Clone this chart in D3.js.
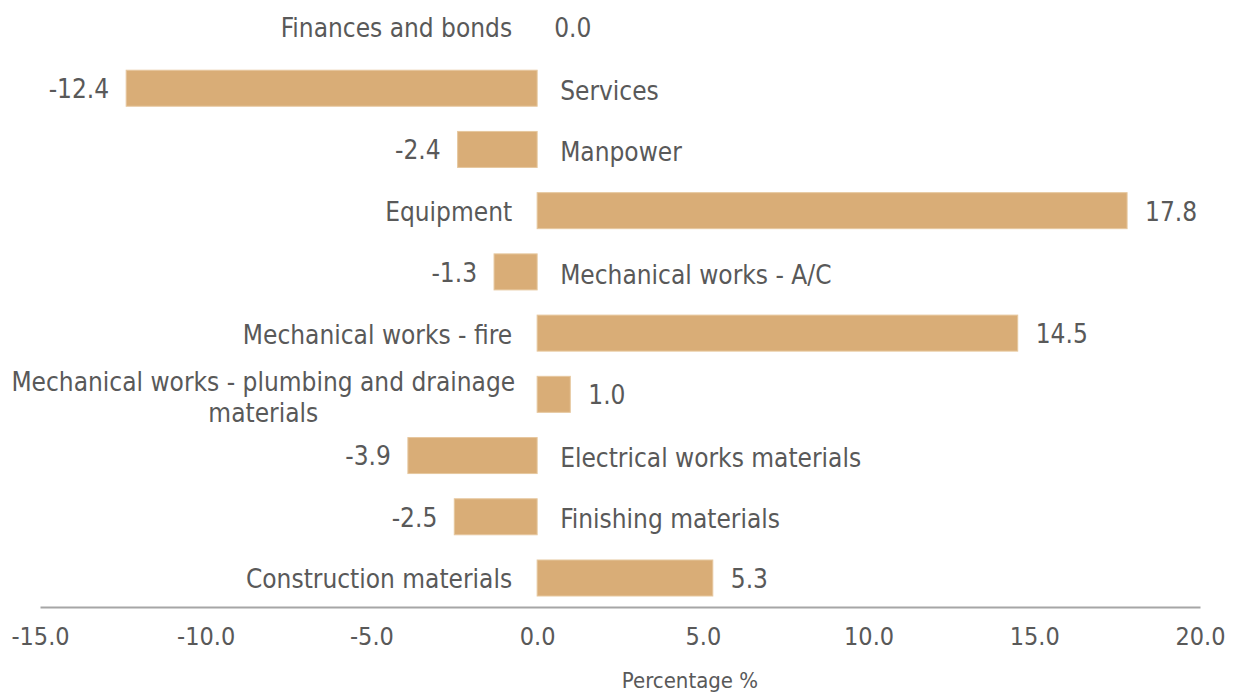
<!DOCTYPE html>
<html>
<head>
<meta charset="utf-8">
<script src="https://cdn.jsdelivr.net/npm/d3@7"></script>
<style>
  body { margin: 0; background: #fff; }
  text { font-family: "DejaVu Sans Condensed", "Liberation Sans Narrow", sans-serif; fill: #595959; }
</style>
</head>
<body>
<div id="chart"></div>
<script>
// categories, top to bottom
const categories = [
    "Finances and bonds",
    "Services",
    "Manpower",
    "Equipment",
    "Mechanical works - A/C",
    "Mechanical works - fire",
    "Mechanical works - plumbing and drainage materials",
    "Electrical works materials",
    "Finishing materials",
    "Construction materials"
]
const values = [0.0, -12.4, -2.4, 17.8, -1.3, 14.5, 1.0, -3.9, -2.5, 5.3]
const xTicks = [-15, -10, -5, 0, 5, 10, 15, 20]

const width = 1238
const height = 694
const fontSize = 26

// plain hyphen instead of unicode minus
const fmt = v => d3.format(".1f")(v).replace("\u2212", "-")

const svg = d3.select("#chart").append("svg")
    .attr("width", width)
    .attr("height", height)

// scales
const xScale = d3.scaleLinear()
    .domain([-15, 20])
    .range([40, 1200])

const yScale = d3.scalePoint()
    .domain(categories)
    .range([27, 578])

const barH = 36
const x0 = xScale(0)

const data = categories.map((c, i) => ({ name: c, value: values[i] }))

// bars
svg.append("g").selectAll("rect")
    .data(data.filter(d => d.value !== 0))
    .join("rect")
        .attr("x", d => Math.min(xScale(d.value), x0))
        .attr("y", d => yScale(d.name) - barH / 2)
        .attr("width", d => Math.abs(xScale(d.value) - x0))
        .attr("height", barH)
        .attr("fill", "#d9ad77")
        .attr("stroke", "#e6c79e")
        .attr("stroke-width", 1)

// axis line + tick labels
const xAx = d3.axisBottom(xScale)
    .tickValues(xTicks)
    .tickSize(0)
    .tickPadding(20)
    .tickFormat(fmt)

const xGroup = svg.append("g")
    .attr("transform", "translate(0, 607)")
    .call(xAx)

xGroup.select(".domain")
    .attr("stroke", "#a6a6a6")
    .attr("stroke-width", 2)
xGroup.selectAll(".tick text")
    .attr("fill", "#595959")
    .style("font-size", "25px")
    .style("font-family", "\"DejaVu Sans Condensed\", \"Liberation Sans Narrow\", sans-serif")

// axis title
svg.append("text")
    .attr("x", 690)
    .attr("y", 688)
    .style("text-anchor", "middle")
    .style("font-size", "22px")
    .text("Percentage %")

// value labels
svg.append("g").selectAll("text")
    .data(data)
    .join("text")
        .attr("x", d => d.value < 0 ? xScale(d.value) - 17 : (d.value === 0 ? x0 + 17 : xScale(d.value) + 18))
        .attr("y", d => yScale(d.name))
        .attr("dy", "0.38em")
        .style("text-anchor", d => d.value < 0 ? "end" : "start")
        .style("font-size", fontSize + "px")
        .text(d => fmt(d.value))

// category labels, on the opposite side of zero
const catG = svg.append("g")
data.forEach(d => {
    const neg = d.value < 0
    const t = catG.append("text")
        .attr("y", yScale(d.name))
        .style("font-size", fontSize + "px")
    if (neg) {
        t.attr("x", x0 + 23).attr("dy", "0.45em").style("text-anchor", "start").text(d.name)
    } else if (d.name.length > 30) {
        // wrap long label in two centered lines
        const line1 = "Mechanical works - plumbing and drainage"
        const line2 = "materials"
        t.attr("x", x0 - 22).attr("dy", "-0.12em").style("text-anchor", "end").text(line1)
        const w = t.node().getComputedTextLength()
        catG.append("text")
            .attr("x", x0 - 22 - w / 2)
            .attr("y", yScale(d.name))
            .attr("dy", "1.08em")
            .style("text-anchor", "middle")
            .style("font-size", fontSize + "px")
            .text(line2)
    } else {
        t.attr("x", x0 - 25).attr("dy", "0.4em").style("text-anchor", "end").text(d.name)
    }
})
</script>
</body>
</html>
